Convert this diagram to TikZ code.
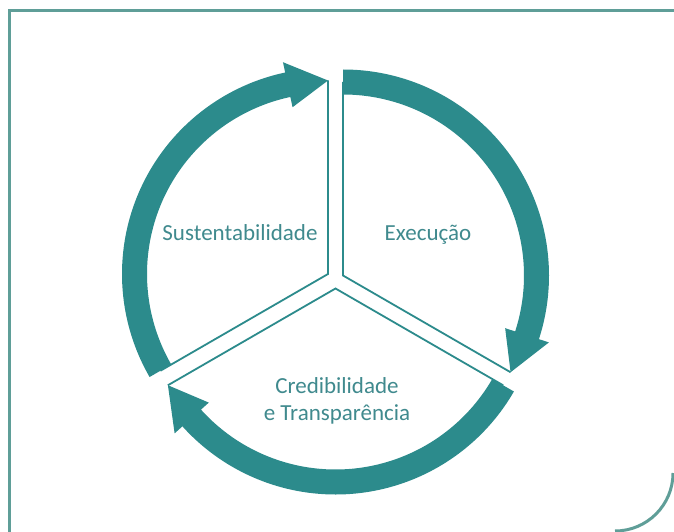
\documentclass[tikz,border=0pt]{standalone}
\usepackage{fontspec}
\setmainfont{Carlito}
\definecolor{bandcol}{RGB}{44,139,140}
\definecolor{txtcol}{RGB}{64,138,142}
\definecolor{framecol}{RGB}{95,158,152}
\newcommand{\arrowband}[3]{%
  \pgfmathsetmacro{\headang}{#3+12}%
  \fill[bandcol] ([shift={(#1)}]#2:\Ro) arc[start angle=#2, end angle=\headang, radius=\Ro]
    -- ([shift={(#1)}]\headang:\Rwo) -- ([shift={(#1)}]#3:\Rm) -- ([shift={(#1)}]\headang:\Rwi)
    -- ([shift={(#1)}]\headang:\Ri) arc[start angle=\headang, end angle=#2, radius=\Ri] -- cycle;}
\begin{document}
\begin{tikzpicture}[x=1pt,y=1pt,
  edgeline/.style={draw=bandcol, line width=1.8pt, line join=miter},
  lab/.style={text=txtcol, font=\fontsize{23}{27}\selectfont, anchor=base, inner sep=0pt},
  frameline/.style={draw=framecol, line width=3pt}]
\useasboundingbox (0,0) rectangle (674,531);
\fill[white] (0,0) rectangle (674,531);
\def\Ro{206}\def\Ri{181}\def\Rm{193.5}\def\Rwo{216.5}\def\Rwi{170.5}
\coordinate (S) at (328,257);
\coordinate (E) at (343,255.5);
\coordinate (B) at (335.5,242.5);
% sector edges
\draw[edgeline] ([shift={(S)}]90:\Rm) -- (S) -- ([shift={(S)}]210:\Rm);
\draw[edgeline] ([shift={(E)}]90:\Rm) -- (E) -- ([shift={(E)}]-30:\Rm);
\draw[edgeline] ([shift={(B)}]-30:\Rm) -- (B) -- ([shift={(B)}]-150:\Rm);
% circular arrows
\arrowband{S}{210}{90}
\arrowband{E}{90}{-30}
\arrowband{B}{-30}{-150}
% labels
\node[lab] (sust) at (240,291) {Sustentabilidade};
\node[lab] (exec) at (428,291) {Execução};
\node[lab] (cred1) at (337,138) {Credibilidade};
\node[lab] (cred2) at (337,111) {e Transparência};
% frame
\draw[frameline] (9,-5) -- (9,520) -- (690,520);
\draw[frameline] (673,58) arc[start angle=0, end angle=-90, radius=58];
\end{tikzpicture}
\end{document}
